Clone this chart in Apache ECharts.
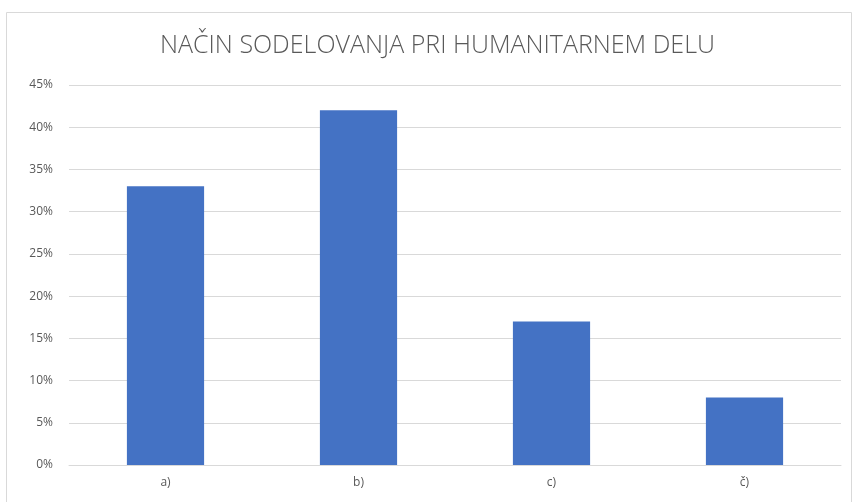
<!DOCTYPE html>
<html>
<head>
<meta charset="utf-8">
<script src="https://cdn.jsdelivr.net/npm/echarts@6/dist/echarts.min.js"></script>
<style>
  html, body { margin: 0; padding: 0; background: #fff; }
  #main { width: 853px; height: 502px; }
</style>
</head>
<body>
<div id="main"></div>
<script>
// podatki
var categories = ['a)', 'b)', 'c)', 'č)'];
var values = [33, 42, 17, 8];
var yTicks = { min: 0, max: 45, interval: 5 };

var chart = echarts.init(document.getElementById('main'));
chart.setOption({
  animation: false,
  title: {
    text: 'NAČIN SODELOVANJA PRI HUMANITARNEM DELU',
    left: 155,
    top: 28,
    textStyle: {
      fontFamily: 'Open Sans',
      fontWeight: 300,
      fontSize: 25,
      color: '#595959'
    }
  },
  graphic: [{
    type: 'rect',
    shape: { x: 6.5, y: 12.5, width: 845, height: 490 },
    style: { fill: 'none', stroke: '#d9d9d9', lineWidth: 1 },
    silent: true
  }],
  grid: { left: 69, right: 12, top: 85, bottom: 37 },
  xAxis: {
    type: 'category',
    data: categories,
    axisLine: { lineStyle: { color: '#d9d9d9' } },
    axisTick: { show: false },
    axisLabel: { color: '#595959', fontSize: 12, fontFamily: 'Open Sans', margin: 12 }
  },
  yAxis: {
    type: 'value',
    min: yTicks.min,
    max: yTicks.max,
    interval: yTicks.interval,
    axisLine: { show: false },
    axisTick: { show: false },
    splitLine: { lineStyle: { color: '#d9d9d9' } },
    axisLabel: {
      color: '#595959', fontSize: 12, fontFamily: 'Open Sans', margin: 16,
      formatter: '{value}%'
    }
  },
  series: [{
    type: 'bar',
    data: values,
    barWidth: '40%',
    itemStyle: { color: '#4472c4' }
  }]
});
</script>
</body>
</html>
